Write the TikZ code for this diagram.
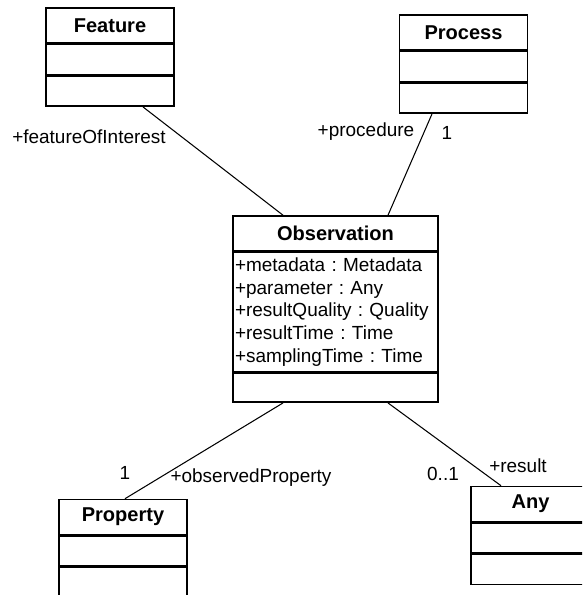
\documentclass[tikz,border=0pt]{standalone}
\usepackage{fontspec}
\setmainfont{Liberation Sans}
\frenchspacing
\usetikzlibrary{positioning}
\tikzset{
  classname/.style={draw,line width=.9pt,minimum width=2.56cm,minimum height=.7cm,inner sep=0pt,font=\fontsize{11.4}{13}\selectfont\bfseries},
  classpart/.style={draw,line width=.9pt,minimum width=2.56cm,minimum height=.6cm,inner sep=0pt},
  assoc/.style={draw,line width=.6pt},
  role/.style={inner sep=1pt}
}
\begin{document}
\begin{tikzpicture}[font=\fontsize{10.8}{13}\selectfont]
\clip (0,0) rectangle (11.64,11.9);
% classes
\node[classname] (feature) at (2.2,11.39) {Feature};
\node[classpart,below=0pt of feature] (featureA) {};
\node[classpart,below=0pt of featureA] (featureB) {};
\node[classname] (process) at (9.27,11.25) {Process};
\node[classpart,below=0pt of process] (processA) {};
\node[classpart,below=0pt of processA] (processB) {};
\node[classname,minimum width=4.1cm] (obs) at (6.71,7.23) {Observation};
\node[classpart,below=0pt of obs,minimum height=2.38cm,text width=4.02cm,inner xsep=.04cm,align=left] (obsA)
  {+metadata : Metadata\\+parameter : Any\\+resultQuality : Quality\\+resultTime : Time\\+samplingTime : Time};
\node[classpart,below=0pt of obsA,minimum width=4.1cm,minimum height=.58cm] (obsB) {};
\node[classname] (property) at (2.46,1.56) {Property};
\node[classpart,below=0pt of property] (propertyA) {};
\node[classpart,below=0pt of propertyA] (propertyB) {};
\node[classname,minimum width=2.38cm] (any) at (10.61,1.82) {Any};
\node[classpart,below=0pt of any,minimum width=2.38cm] (anyA) {};
\node[classpart,below=0pt of anyA,minimum width=2.38cm] (anyB) {};
% associations
\draw[assoc] ([xshift=.66cm]featureB.south) -- ([xshift=-1.05cm]obs.north);
\draw[assoc] ([xshift=-.63cm]processB.south) -- ([xshift=1.05cm]obs.north);
\draw[assoc] ([xshift=-1.05cm]obsB.south) -- ([xshift=.04cm]property.north);
\draw[assoc] ([xshift=1.05cm]obsB.south) -- ([xshift=-.59cm]any.north);
% roles and multiplicities
\node[role] (foi) at (1.78,9.16) {+featureOfInterest};
\node[role] (proc) at (7.32,9.26) {+procedure};
\node[role] (procM) at (8.94,9.24) {1};
\node[role] (propM) at (2.5,2.44) {1};
\node[role] (oprop) at (5.02,2.34) {+observedProperty};
\node[role] (resM) at (8.86,2.42) {0..1};
\node[role] (res) at (10.36,2.58) {+result};
\end{tikzpicture}
\end{document}
